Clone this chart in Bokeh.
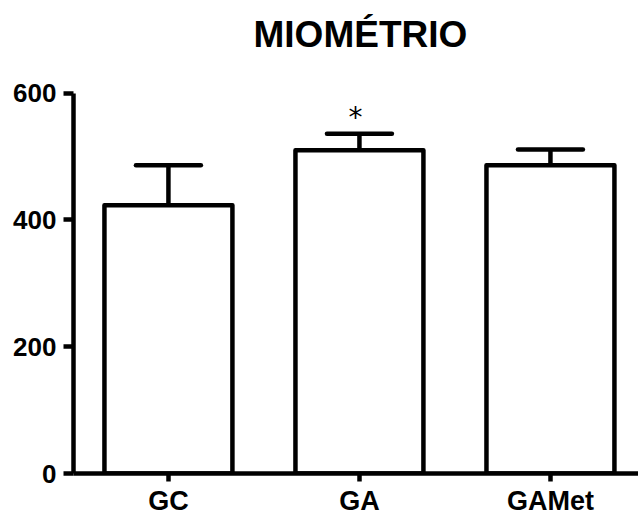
from bokeh.plotting import figure
from bokeh.models import Range1d, FixedTicker
from bokeh.core.properties import value
from bokeh.embed import file_html
from bokeh.resources import INLINE

# Data
categories = ["GC", "GA", "GAMet"]
means = [423, 510, 486]
sem = [63, 26, 25]
y_ticks = [0, 200, 400, 600]
title_text = "MIOMÉTRIO"
star_text = ["*"]
star_index = [1]

xs = list(range(len(categories)))
tops = [m + s for m, s in zip(means, sem)]

p = figure(width=638, height=518, output_backend="svg", toolbar_location=None,
           x_range=Range1d(-0.497, 2.461), y_range=Range1d(0, 746),
           min_border_left=73, min_border_right=0, min_border_top=0, min_border_bottom=43)
p.outline_line_color = None
p.xgrid.visible = False
p.ygrid.visible = False
p.background_fill_color = "white"
p.border_fill_color = "white"

font = value("Liberation Sans")

# Bars
p.vbar(x=xs, top=means, bottom=0, width=0.67, fill_color="white",
       line_color="black", line_width=4.5, line_join="round")

# Error bars (upper only)
p.segment(x0=xs, y0=means, x1=xs, y1=tops, line_color="black", line_width=4.5)
p.segment(x0=[x - 0.17 for x in xs], y0=tops, x1=[x + 0.17 for x in xs], y1=tops,
          line_color="black", line_width=4.5, line_cap="round")

# Significance mark
p.text(x=[xs[i] - 0.021 for i in star_index], y=[tops[i] + 26 for i in star_index],
       text=star_text, text_font=value("DejaVu Sans"), text_font_size="28px",
       text_align="center", text_baseline="alphabetic", text_color="black")

# Title as text
p.text(x=[1.005], y=[692], text=[title_text], text_font=font, text_font_style="bold",
       text_font_size="37px", text_align="center", text_baseline="alphabetic",
       text_color="black")

# Axes
xa = p.xaxis[0]
xa.ticker = FixedTicker(ticks=xs)
xa.major_label_overrides = {i: c for i, c in enumerate(categories)}
xa.axis_line_width = 4.5
xa.major_tick_line_width = 4.5
xa.major_tick_out = 8
xa.major_tick_in = 0
xa.minor_tick_line_color = None
xa.major_label_text_font = "Liberation Sans"
xa.major_label_text_font_style = "bold"
xa.major_label_text_font_size = "27px"
xa.major_label_text_color = "black"
xa.major_label_standoff = 4

ya = p.yaxis[0]
ya.ticker = FixedTicker(ticks=y_ticks)
ya.bounds = (0, 600)
ya.axis_line_width = 4.5
ya.major_tick_line_width = 4.5
ya.major_tick_out = 10
ya.major_tick_in = 0
ya.minor_tick_line_color = None
ya.major_label_text_font = "Liberation Sans"
ya.major_label_text_font_style = "bold"
ya.major_label_text_font_size = "26px"
ya.major_label_text_color = "black"
ya.major_label_standoff = 7

open("out.html", "w").write(file_html(p, INLINE))
